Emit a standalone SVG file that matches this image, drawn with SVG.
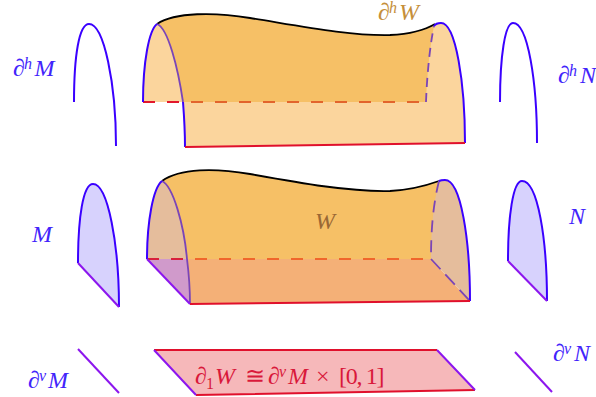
<svg xmlns="http://www.w3.org/2000/svg" width="596" height="397" viewBox="0 0 596 397">
<style>
text{font-family:"Liberation Serif","Times New Roman",serif;font-style:italic;font-size:24px}
.up{font-size:16px}
.rm{font-style:normal}
.b{fill:#4224fb}
.blue{fill:none;stroke:#3a00ff;stroke-width:2}
.purple{fill:none;stroke:#8c16ee;stroke-width:2}
.red{fill:none;stroke:#e0102c;stroke-width:2}
.thin{fill:none;stroke:#7a45b8;stroke-width:1.8}
</style>
<g id="dhM"><path class="blue" d="M74,102C74,56 79,24 89,24C104,24 116,84 116,146"/><text class="b" x="13" y="76">∂<tspan class="up" x="24" y="69">h</tspan><tspan x="34.500" y="76">M</tspan></text></g>
<g id="dhW">
<path d="M143,102C143,62 149,30 157,24C175,12 215,12 250,18C300,26 350,36 390,35C410,34 425,30 433,25C436,23 439,23 441,23C456,23 465,84 465,143L185,147L184,102H143Z" fill="#fbd59d"/>
<path d="M157,24C175,12 215,12 250,18C300,26 350,36 390,35C410,34 425,30 434,26C430,45 427,75 426,102H183C178,68 168,28 157,24Z" fill="#f6c066"/>
<path d="M157,24C175,12 215,12 250,18C300,26 350,36 390,35C410,34 425,30 435,24" fill="none" stroke="#000" stroke-width="1.8"/>
<path class="thin" d="M157,24C168,28 178,68 183,102"/>
<path class="thin" d="M426,102C427,75 430,45 434,26" stroke-dasharray="9 6"/>
<path d="M143,102H180" fill="none" stroke="#e2182c" stroke-width="2" stroke-dasharray="12 12"/>
<path d="M191,102H426" fill="none" stroke="#e2642c" stroke-width="2" stroke-dasharray="12 12"/>
<path class="blue" d="M157,24C149,30 143,62 143,102"/>
<path class="blue" d="M183,102C184,115 185,130 185,147"/>
<path class="blue" d="M434,26C436,23 439,23 441,23C456,23 465,84 465,143"/>
<path class="red" d="M185,147L465,143"/>
<text x="378" y="20" fill="#c58f3a">∂<tspan class="up" x="389" y="13">h</tspan><tspan x="399" y="20">W</tspan></text>
</g>
<g id="dhN"><path class="blue" d="M500,102C500,56 505,23 513,23C528,23 537,82 537,143"/><text class="b" x="558" y="83">∂<tspan class="up" x="569" y="76">h</tspan><tspan x="580" y="83">N</tspan></text></g>
<g id="M"><path d="M78,263C78,218 83,184 93,184C108,184 119,245 119,307Z" fill="#d7d2fd"/><path class="blue" d="M78,263C78,218 83,184 93,184C108,184 119,245 119,307"/><path class="purple" d="M78,263L119,307"/><text class="b" x="32" y="242">M</text></g>
<g id="W">
<path d="M162,181C180,168 215,168 250,174C300,183 350,192 390,191C410,190 425,186 439,181L431,259H147Z" fill="#f6c066"/>
<path d="M147,259H431L470,301L190,304Z" fill="#f4b077"/>
<path d="M147,259C147,222 153,188 162,181C173,186 184,225 187,259Z" fill="#e5bd9c"/>
<path d="M147,259H187C189,275 190,290 190,304Z" fill="#d09acb"/>
<path d="M439,181C441,180 443,180 445,180C461,180 470,240 470,301L431,259C431,230 433,205 439,181Z" fill="#e5bd9c"/>
<path d="M162,181C180,168 215,168 250,174C300,183 350,192 390,191C410,190 425,186 439,181" fill="none" stroke="#000" stroke-width="1.8"/>
<path d="M147,259H184" fill="none" stroke="#d8203c" stroke-width="2" stroke-dasharray="12 12"/>
<path d="M195,259H423" fill="none" stroke="#f0662c" stroke-width="2" stroke-dasharray="12 12"/>
<path class="thin" d="M162,181C173,186 184,225 187,259C189,275 190,290 190,304"/>
<path class="thin" d="M439,181C433,205 431,230 431,259" stroke-dasharray="12 8"/>
<path class="thin" d="M431,259L470,301" stroke-dasharray="14 7"/>
<path class="blue" d="M162,181C153,188 147,222 147,259"/>
<path class="blue" d="M439,181C441,180 443,180 445,180C461,180 470,240 470,301"/>
<path class="purple" d="M147,259L190,304" stroke-width="1.8"/>
<path class="red" d="M190,304L470,301" stroke-width="1.8"/>
<text x="315" y="229" fill="#9a6835">W</text>
</g>
<g id="N"><path d="M508,261C508,216 513,181 522,181C538,181 547,240 547,301Z" fill="#d7d2fd"/><path class="blue" d="M508,261C508,216 513,181 522,181C538,181 547,240 547,301"/><path class="purple" d="M508,261L547,301"/><text class="b" x="569" y="224">N</text></g>
<g id="dvM"><path class="purple" d="M78,349L119,393"/><text class="b" x="28" y="388">∂<tspan class="up" x="39" y="381">v</tspan><tspan x="48" y="388">M</tspan></text></g>
<g id="dvN"><path class="purple" d="M515,352L552,392"/><text class="b" x="553" y="361">∂<tspan class="up" x="564" y="354">v</tspan><tspan x="574" y="361">N</tspan></text></g>
<g id="d1W">
<path d="M154,350H437L475,390L196,395Z" fill="#f6b8ba"/>
<path class="red" d="M154,350H437M475,390L196,395"/>
<path class="purple" d="M154,350L196,395M437,350L475,390"/>
<text x="195" y="384" fill="#d9183a">∂<tspan class="up rm" x="206" y="389">1</tspan><tspan x="215" y="384">W</tspan><tspan class="rm" x="245" y="384">≅</tspan><tspan x="268" y="384">∂</tspan><tspan class="up" x="279" y="377">v</tspan><tspan x="288" y="384">M</tspan><tspan class="rm" x="316" y="384">×</tspan><tspan class="rm" x="339" y="384" letter-spacing="-1.300">[0, 1]</tspan></text>
</g>
</svg>
